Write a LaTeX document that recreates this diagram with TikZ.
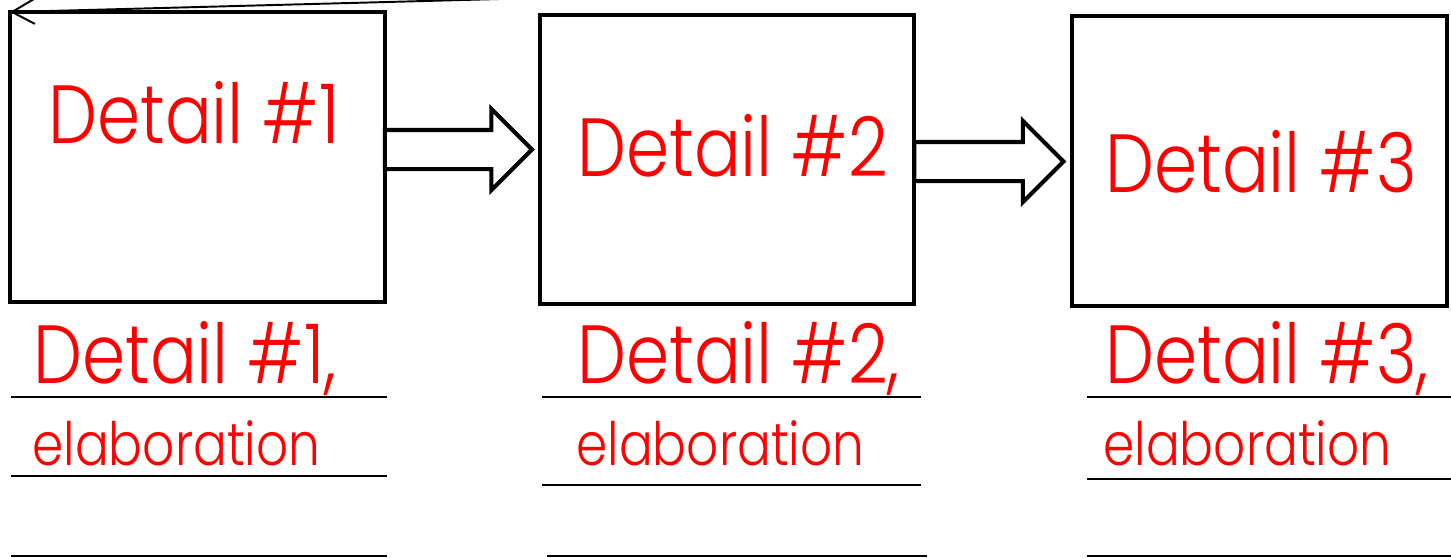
\documentclass[tikz,border=0pt]{standalone}
\usepackage{fontspec}
\IfFontExistsTF{Poppins Light}{\setmainfont{Poppins Light}[FakeStretch=0.84]}{\setmainfont{Poppins}[FakeStretch=0.84]}
\usepackage{tikz}
\usetikzlibrary{calc,positioning,shapes.arrows,arrows.meta}

\begin{document}
\begin{tikzpicture}[x=0.02cm, y=-0.02cm, lbl/.style={text=red, inner sep=0pt, anchor=base west, font=\fontsize{47}{50}\selectfont}, sml/.style={lbl, font=\fontsize{34}{40}\selectfont}]
\tikzstyle{box}=[draw, line width=2.3pt, minimum width=7.5cm, minimum height=5.8cm, inner sep=0pt, outer sep=0pt]
\tikzstyle{fat}=[single arrow, draw, line width=2.3pt, inner xsep=0pt, inner ysep=0.35cm, outer sep=0pt, single arrow head extend=0.42cm, anchor=tail]
\tikzstyle{rule}=[line width=1.6pt]
\useasboundingbox (0,0) rectangle (1451,558);
\node[box] (d1) at (197.5,157){};
\node[box] (d2) at (727,159.5){};
\node[box] (d3) at (1259.5,161){};
\node[fat, minimum height=2.94cm] (a1) at ($(d1.east)+(0,-7.5)$){};
\node[fat, minimum height=2.98cm] (a2) at ($(d2.east)+(0,2)$){};
\coordinate (top) at (500,-1);
\draw[line width=1.1pt, -{Straight Barb[length=0.45cm, width=0.5cm]}] (top) -- (d1.north west);
\foreach \i/\x/\y in {1/48/143,2/577/176,3/1105/192}{\node[lbl] (t\i) at (\x,\y) {Detail \#\i};}
\foreach \i/\x in {1/33,2/577,3/1105}{\node[lbl] (n\i) at (\x,383) {Detail \#\i,};}
\foreach \i/\x in {1/32,2/576,3/1103}{\node[sml] (e\i) at (\x,465) {elaboration};}
\foreach \xa/\xb/\y in {11/387/397,11/387/476,11/387/556,542/921/397,542/921/485,547/927/556,1087/1451/397,1087/1451/479,1087/1451/556}{\draw[rule] (\xa,\y) -- (\xb,\y);}
\end{tikzpicture}
\end{document}
